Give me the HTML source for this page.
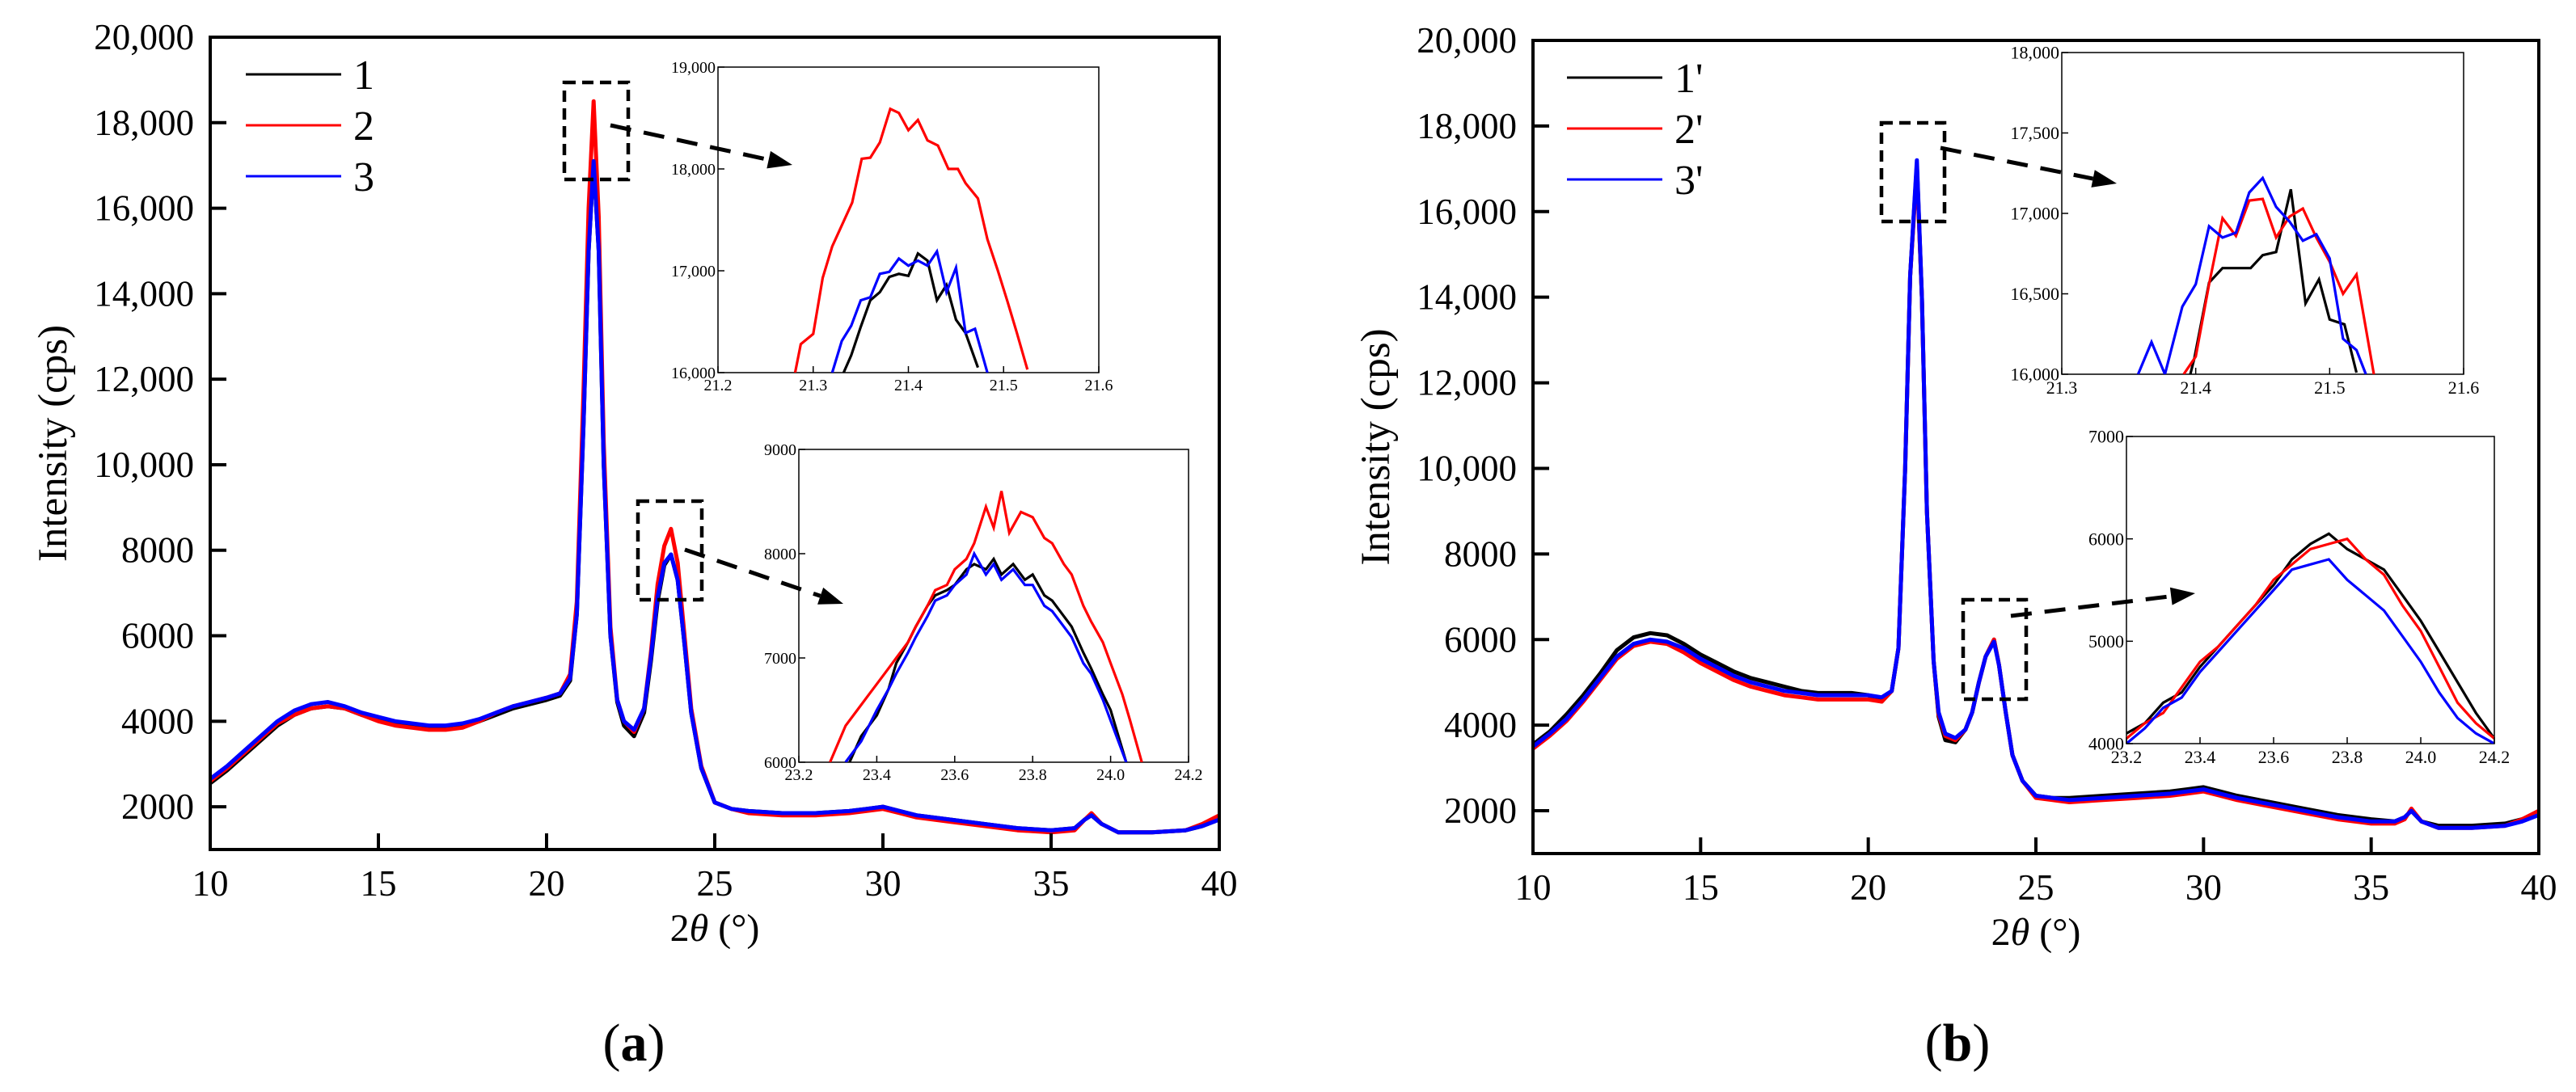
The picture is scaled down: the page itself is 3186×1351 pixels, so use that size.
<!DOCTYPE html>
<html><head><meta charset="utf-8"><style>
html,body{margin:0;padding:0;background:#fff}
svg{display:block}
svg text{font-family:"Liberation Serif","Times New Roman","DejaVu Serif",serif;fill:#000}
</style></head><body>
<svg id="fig" width="3186" height="1351" viewBox="0 0 3186 1351" xmlns="http://www.w3.org/2000/svg" font-family="Liberation Serif, DejaVu Serif, serif">
<defs>
<clipPath id="cA"><rect x="260" y="46" width="1248" height="1005"/></clipPath>
<clipPath id="cB"><rect x="1896" y="50" width="1244" height="1006"/></clipPath>
<clipPath id="cA1"><rect x="888" y="83" width="471" height="378"/></clipPath>
<clipPath id="cA2"><rect x="988" y="556" width="482" height="387"/></clipPath>
<clipPath id="cB1"><rect x="2550" y="65" width="497" height="398"/></clipPath>
<clipPath id="cB2"><rect x="2630" y="540" width="455" height="380"/></clipPath>
</defs>
</svg>
<script>
// ---------- Panel (a) main data ----------
const xA = [10,10.5,11,11.5,12,12.5,13,13.5,14,14.5,15,15.5,16,16.5,17,17.5,18,18.5,19,19.5,20,20.4,20.7,20.9,21.1,21.25,21.4,21.55,21.7,21.9,22.1,22.3,22.6,22.9,23.1,23.3,23.5,23.7,23.9,24.1,24.3,24.6,25,25.5,26,27,28,29,29.5,30,30.5,31,32,33,34,35,35.7,36,36.2,36.5,37,38,39,39.5,40];
const a1 = [2550,2850,3200,3550,3900,4150,4300,4350,4300,4150,4050,3950,3900,3850,3850,3900,4000,4150,4300,4400,4500,4600,4950,6500,11000,15000,17100,15000,10000,6000,4450,3900,3650,4200,5400,6800,7650,7900,7300,5800,4200,2900,2100,1950,1900,1850,1850,1900,1950,2000,1900,1800,1700,1600,1500,1450,1500,1700,1800,1600,1400,1400,1450,1550,1700];
const a2 = [2600,2900,3250,3600,3950,4150,4300,4350,4300,4150,4000,3900,3850,3800,3800,3850,4000,4200,4350,4450,4550,4650,5100,6800,11800,16000,18500,15800,10500,6200,4500,4000,3750,4300,5600,7200,8100,8500,7700,6000,4300,2950,2100,1950,1850,1800,1800,1850,1900,1950,1850,1750,1650,1550,1450,1400,1450,1700,1850,1600,1400,1400,1450,1600,1800];
const a3 = [2650,2950,3300,3650,4000,4250,4400,4450,4350,4200,4100,4000,3950,3900,3900,3950,4050,4200,4350,4450,4550,4650,5000,6500,11000,15000,17100,15000,10000,6000,4500,4000,3800,4300,5500,6900,7700,7900,7300,5800,4200,2900,2100,1950,1900,1850,1850,1900,1950,2000,1900,1800,1700,1600,1500,1450,1500,1700,1800,1600,1400,1400,1450,1550,1700];
// ---------- Panel (b) main data ----------
const xB = [10,10.5,11,11.5,12,12.5,13,13.5,14,14.5,15,15.5,16,16.5,17,17.5,18,18.5,19,19.5,20,20.4,20.7,20.9,21.1,21.25,21.45,21.6,21.75,21.95,22.1,22.3,22.6,22.9,23.1,23.3,23.5,23.75,23.9,24.1,24.3,24.6,25,25.5,26,27,28,29,29.5,30,30.5,31,32,33,34,35,35.7,36,36.2,36.5,37,38,39,39.5,40];
const b1 = [3550,3850,4250,4700,5200,5750,6050,6150,6100,5900,5650,5450,5250,5100,5000,4900,4800,4750,4750,4750,4700,4550,4800,5800,10000,14500,17100,14000,9000,5500,4200,3650,3600,3900,4300,5000,5600,6000,5400,4300,3300,2700,2350,2300,2300,2350,2400,2450,2500,2550,2450,2350,2200,2050,1900,1800,1750,1850,2000,1750,1650,1650,1700,1800,1950];
const b2 = [3450,3750,4100,4550,5050,5550,5850,5950,5900,5700,5450,5250,5050,4900,4800,4700,4650,4600,4600,4600,4600,4550,4800,5800,10000,14500,17000,14000,9000,5500,4250,3750,3650,3900,4300,5000,5600,6000,5400,4300,3300,2700,2300,2250,2200,2250,2300,2350,2400,2450,2350,2250,2100,1950,1800,1700,1700,1800,2050,1750,1600,1600,1650,1800,2000];
const b3 = [3500,3800,4150,4600,5100,5600,5900,6000,5950,5800,5550,5350,5150,5000,4900,4800,4750,4700,4700,4700,4700,4650,4800,5800,10000,14500,17200,14000,9000,5500,4300,3800,3700,3900,4300,5000,5600,5950,5400,4300,3300,2700,2350,2300,2250,2300,2350,2400,2450,2500,2400,2300,2150,2000,1850,1750,1750,1850,2000,1750,1600,1600,1650,1750,1900];
// ---------- Inset data ----------
const iA1x1 = [21.332,21.34,21.35,21.36,21.37,21.38,21.39,21.40,21.41,21.42,21.43,21.44,21.45,21.46,21.473];
const iA1y1 = [16000,16170,16450,16710,16790,16940,16970,16950,17170,17100,16710,16860,16520,16390,16050];
const iA1x2 = [21.281,21.287,21.30,21.31,21.32,21.341,21.351,21.36,21.37,21.381,21.39,21.40,21.41,21.42,21.431,21.442,21.452,21.46,21.473,21.483,21.494,21.504,21.514,21.525];
const iA1y2 = [16000,16280,16380,16930,17240,17670,18100,18110,18260,18590,18550,18380,18480,18280,18230,18000,18000,17860,17710,17310,17000,16700,16390,16030];
const iA1x3 = [21.32,21.33,21.34,21.35,21.36,21.37,21.38,21.39,21.40,21.41,21.42,21.43,21.44,21.45,21.46,21.47,21.483];
const iA1y3 = [16000,16310,16460,16710,16740,16970,16990,17120,17050,17100,17050,17190,16790,17030,16390,16430,16000];
const iA2x1 = [23.33,23.36,23.4,23.43,23.45,23.48,23.5,23.53,23.55,23.58,23.6,23.63,23.65,23.68,23.7,23.72,23.75,23.78,23.8,23.83,23.85,23.88,23.9,23.93,23.95,23.98,24.0,24.04];
const iA2y1 = [6000,6250,6450,6700,6950,7150,7300,7500,7600,7650,7700,7850,7900,7850,7950,7800,7900,7750,7800,7600,7550,7400,7300,7050,6900,6650,6500,6000];
const iA2x2 = [23.28,23.32,23.35,23.38,23.4,23.43,23.45,23.48,23.5,23.53,23.55,23.58,23.6,23.63,23.65,23.68,23.7,23.72,23.74,23.77,23.8,23.83,23.85,23.88,23.9,23.93,23.95,23.98,24.0,24.03,24.05,24.08];
const iA2y2 = [6000,6350,6500,6650,6750,6900,7000,7150,7300,7500,7650,7700,7850,7950,8100,8450,8250,8600,8200,8400,8350,8150,8100,7900,7800,7500,7350,7150,6950,6650,6400,6000];
const iA2x3 = [23.32,23.36,23.4,23.43,23.45,23.48,23.5,23.53,23.55,23.58,23.6,23.63,23.65,23.68,23.7,23.72,23.75,23.78,23.8,23.83,23.85,23.88,23.9,23.93,23.95,23.98,24.0,24.04];
const iA2y3 = [6000,6200,6500,6700,6850,7050,7200,7400,7550,7600,7700,7800,8000,7800,7900,7750,7850,7700,7700,7500,7450,7300,7200,6950,6850,6600,6400,6000];
const iB1x1 = [21.396,21.399,21.41,21.42,21.441,21.45,21.46,21.471,21.482,21.492,21.50,21.511,21.52];
const iB1y1 = [16000,16100,16570,16660,16660,16740,16760,17150,16440,16590,16340,16310,16010];
const iB1x2 = [21.391,21.40,21.41,21.42,21.43,21.44,21.45,21.46,21.47,21.48,21.49,21.50,21.51,21.52,21.533];
const iB1y2 = [16000,16110,16560,16970,16860,17080,17090,16850,16980,17030,16850,16700,16500,16620,16000];
const iB1x3 = [21.357,21.367,21.377,21.39,21.40,21.41,21.42,21.43,21.44,21.45,21.46,21.47,21.48,21.49,21.50,21.51,21.52,21.527];
const iB1y3 = [16000,16200,16000,16420,16560,16920,16850,16880,17130,17220,17040,16950,16830,16870,16720,16220,16150,16000];
const iBx2 = [23.2,23.25,23.3,23.35,23.4,23.45,23.5,23.55,23.6,23.65,23.7,23.75,23.8,23.85,23.9,23.95,24.0,24.05,24.1,24.15,24.2];
const iB2y1 = [4100,4200,4400,4500,4750,4950,5150,5350,5550,5800,5950,6050,5900,5800,5700,5450,5200,4900,4600,4300,4050];
const iB2y2 = [4050,4200,4300,4550,4800,4950,5150,5350,5600,5750,5900,5950,6000,5800,5650,5350,5100,4750,4400,4200,4050];
const iB2y3 = [4000,4150,4350,4450,4700,4900,5100,5300,5500,5700,5750,5800,5600,5450,5300,5050,4800,4500,4250,4100,4000];
const yTicksMain = [2000,4000,6000,8000,10000,12000,14000,16000,18000,20000];
const yTickLabels = ["2000","4000","6000","8000","10,000","12,000","14,000","16,000","18,000","20,000"];
const xTicksMain = [10,15,20,25,30,35,40];

const NS = "http://www.w3.org/2000/svg";
const svg = document.getElementById('fig');
function mk(tag, attrs, parent, txt){
  const e = document.createElementNS(NS, tag);
  for (const k in attrs) e.setAttribute(k, attrs[k]);
  if (txt !== undefined) e.textContent = txt;
  (parent || svg).appendChild(e);
  return e;
}
function scale(d0,d1,r0,r1){ return v => r0 + (v-d0)/(d1-d0)*(r1-r0); }
const COL = ['#000000','#ff0000','#0000ff'];

function mainPanel(cfg){
  const g = mk('g', {});
  
  
  const sx = scale(10,40,cfg.L,cfg.R), sy = scale(1000,20000,cfg.B,cfg.T);
  cfg.series.forEach((ys,i)=>{
    const pts = cfg.xs.map((x,j)=>sx(x).toFixed(1)+','+sy(ys[j]).toFixed(1)).join(' ');
    const p = mk('polyline', {points:pts, fill:'none', stroke:COL[i], 'stroke-width':5, 'stroke-linejoin':'round', 'clip-path':'url(#'+cfg.clip+')'}, g);
    
    
  });
  const fr = mk('rect', {x:cfg.L, y:cfg.T, width:cfg.R-cfg.L, height:cfg.B-cfg.T, fill:'none', stroke:'#000', 'stroke-width':4}, g);
  
  
  yTicksMain.forEach((v,i)=>{
    const y = sy(v);
    if (i < yTicksMain.length-1) mk('line', {x1:cfg.L, x2:cfg.L+20, y1:y, y2:y, stroke:'#000', 'stroke-width':4}, g);
    const t = mk('text', {x:cfg.L-20, y:y+15, 'text-anchor':'end', 'font-size':45}, g, yTickLabels[i]);
    
    
  });
  xTicksMain.forEach(v=>{
    const x = sx(v);
    if (v>10 && v<40) mk('line', {x1:x, x2:x, y1:cfg.B, y2:cfg.B-20, stroke:'#000', 'stroke-width':4}, g);
    const t = mk('text', {x:x, y:cfg.B+57, 'text-anchor':'middle', 'font-size':45}, g, String(v));
    
    
  });
  const yt = mk('text', {x:0, y:0, 'text-anchor':'middle', 'font-size':51, transform:'translate('+(cfg.L-178)+','+((cfg.T+cfg.B)/2)+') rotate(-90)'}, g, 'Intensity (cps)');
  
  
  const xt = mk('text', {x:(cfg.L+cfg.R)/2, y:cfg.B+113, 'text-anchor':'middle', 'font-size':48}, g);
  
  
  mk('tspan', {}, xt, '2');
  mk('tspan', {'font-style':'italic'}, xt, 'θ');
  mk('tspan', {}, xt, ' (°)');
  cfg.labels.forEach((lab,i)=>{
    const y = cfg.legY + i*63;
    const le = mk('g', {}, g);
    
    
    mk('line', {x1:cfg.legX, x2:cfg.legX+118, y1:y, y2:y, stroke:COL[i], 'stroke-width':3}, le);
    mk('text', {x:cfg.legX+133, y:y+18, 'font-size':52}, le, lab);
  });
  const pl = mk('text', {x:cfg.capX, y:1312, 'text-anchor':'middle', 'font-size':66, 'font-weight':'bold'}, g);
  
  
  mk('tspan', {'font-weight':'normal'}, pl, '(');
  mk('tspan', {}, pl, cfg.cap);
  mk('tspan', {'font-weight':'normal'}, pl, ')');
}

function inset(cfg){
  const g = mk('g', {});
  
  
  const sx = scale(cfg.xd[0],cfg.xd[1],cfg.L,cfg.R), sy = scale(cfg.yd[0],cfg.yd[1],cfg.B,cfg.T);
  mk('rect', {x:cfg.L, y:cfg.T, width:cfg.R-cfg.L, height:cfg.B-cfg.T, fill:'#fff', stroke:'#000', 'stroke-width':1.5}, g);
  cfg.series.forEach((s,i)=>{
    const pts = s[0].map((x,j)=>sx(x).toFixed(1)+','+sy(s[1][j]).toFixed(1)).join(' ');
    const p = mk('polyline', {points:pts, fill:'none', stroke:COL[i], 'stroke-width':3.2, 'stroke-linejoin':'miter', 'clip-path':'url(#'+cfg.clip+')'}, g);
    
    
  });
  cfg.xt.forEach(v=>{
    const x = sx(v);
    mk('line', {x1:x, x2:x, y1:cfg.B, y2:cfg.B-8, stroke:'#000', 'stroke-width':1.5}, g);
    const t = mk('text', {x:x, y:cfg.B+cfg.fs+2, 'text-anchor':'middle', 'font-size':cfg.fs}, g, v.toFixed(1));
    
    
  });
  cfg.yt.forEach((v,i)=>{
    const y = sy(v);
    mk('line', {x1:cfg.L, x2:cfg.L+8, y1:y, y2:y, stroke:'#000', 'stroke-width':1.5}, g);
    const t = mk('text', {x:cfg.L-3, y:y+cfg.fs*0.35, 'text-anchor':'end', 'font-size':cfg.fs}, g, cfg.ytl[i]);
    
    
  });
}

function zoomBox(name, x, y, w, h, ax1, ay1, ax2, ay2){
  const g = mk('g', {});
  
  
  mk('rect', {x:x, y:y, width:w, height:h, fill:'none', stroke:'#000', 'stroke-width':4.5, 'stroke-dasharray':'14,8'}, g);
  const ang = Math.atan2(ay2-ay1, ax2-ax1), L = 30, W = 11;
  const bx = ax2 - L*Math.cos(ang), by = ay2 - L*Math.sin(ang);
  mk('line', {x1:ax1, y1:ay1, x2:bx, y2:by, stroke:'#000', 'stroke-width':5, 'stroke-dasharray':'26,16'}, g);
  const px = -Math.sin(ang)*W, py = Math.cos(ang)*W;
  mk('polygon', {points:`${ax2},${ay2} ${bx+px},${by+py} ${bx-px},${by-py}`, fill:'#000'}, g);
}

mainPanel({name:'panel-a', L:260, R:1508, T:46, B:1051, clip:'cA', xs:xA, series:[a1,a2,a3], labels:['1','2','3'], legX:304, legY:92, capX:784, cap:'a'});
mainPanel({name:'panel-b', L:1896, R:3140, T:50, B:1056, clip:'cB', xs:xB, series:[b1,b2,b3], labels:["1'","2'","3'"], legX:1938, legY:96, capX:2421, cap:'b'});

inset({name:'inset-a-main-peak', L:888, R:1359, T:83, B:461, xd:[21.2,21.6], yd:[16000,19000], clip:'cA1', fs:20,
  series:[[iA1x1,iA1y1],[iA1x2,iA1y2],[iA1x3,iA1y3]], xt:[21.2,21.3,21.4,21.5,21.6], yt:[16000,17000,18000,19000], ytl:['16,000','17,000','18,000','19,000']});
inset({name:'inset-a-second-peak', L:988, R:1470, T:556, B:943, xd:[23.2,24.2], yd:[6000,9000], clip:'cA2', fs:20,
  series:[[iA2x1,iA2y1],[iA2x2,iA2y2],[iA2x3,iA2y3]], xt:[23.2,23.4,23.6,23.8,24.0,24.2], yt:[6000,7000,8000,9000], ytl:['6000','7000','8000','9000']});
inset({name:'inset-b-main-peak', L:2550, R:3047, T:65, B:463, xd:[21.3,21.6], yd:[16000,18000], clip:'cB1', fs:22,
  series:[[iB1x1,iB1y1],[iB1x2,iB1y2],[iB1x3,iB1y3]], xt:[21.3,21.4,21.5,21.6], yt:[16000,16500,17000,17500,18000], ytl:['16,000','16,500','17,000','17,500','18,000']});
inset({name:'inset-b-second-peak', L:2630, R:3085, T:540, B:920, xd:[23.2,24.2], yd:[4000,7000], clip:'cB2', fs:22,
  series:[[iBx2,iB2y1],[iBx2,iB2y2],[iBx2,iB2y3]], xt:[23.2,23.4,23.6,23.8,24.0,24.2], yt:[4000,5000,6000,7000], ytl:['4000','5000','6000','7000']});

zoomBox('zoom-box-a-main-peak', 698, 102, 79, 120, 755, 155, 980, 204);
zoomBox('zoom-box-a-second-peak', 789, 620, 79, 122, 847, 680, 1043, 747);
zoomBox('zoom-box-b-main-peak', 2327, 152, 78, 122, 2400, 183, 2618, 227);
zoomBox('zoom-box-b-second-peak', 2428, 742, 78, 123, 2487, 762, 2715, 734);
</script>
</body></html>
